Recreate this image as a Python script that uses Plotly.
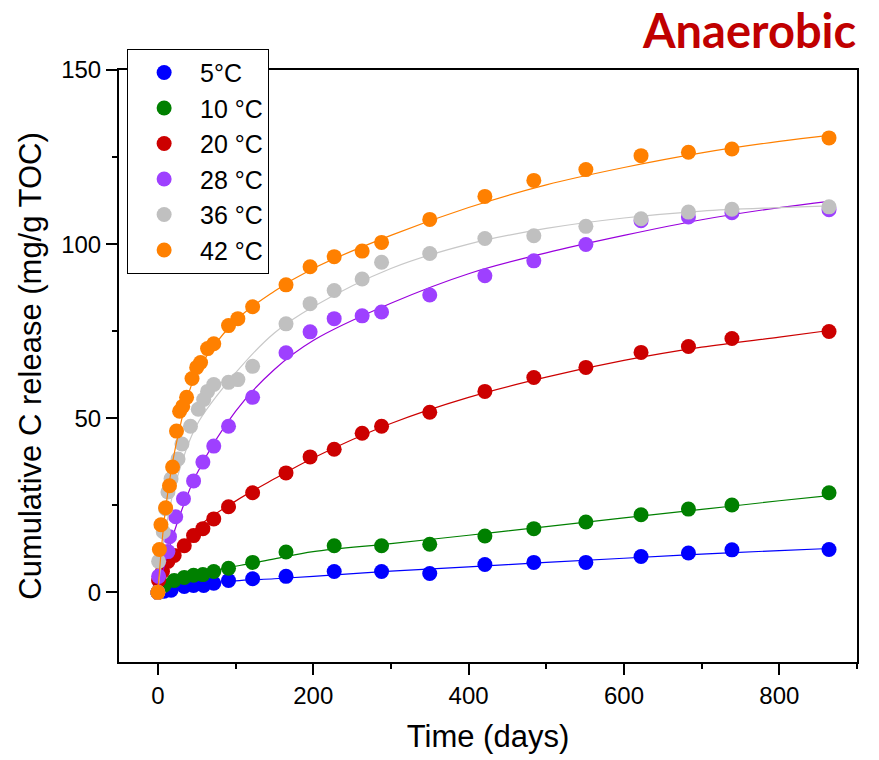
import plotly.graph_objects as go

# ---- Data ----
labels = ["5°C", "10 °C", "20 °C", "28 °C", "36 °C", "42 °C"]

days_5 = [0, 8, 17, 34, 46, 59, 72, 91, 122, 165, 227, 288, 350, 421, 484, 551, 622, 683, 739, 864]
vals_5 = [0, 0.3, 0.6, 1.7, 2.0, 2.0, 2.6, 3.4, 3.9, 4.6, 6.0, 6.0, 5.4, 8.0, 8.6, 8.6, 10.3, 11.3, 12.2, 12.3]

days_10 = [0, 8, 21, 34, 46, 58, 72, 91, 122, 165, 227, 288, 350, 421, 484, 551, 622, 683, 739, 864]
vals_10 = [0, 2.0, 3.4, 4.3, 4.9, 5.1, 6.0, 6.9, 8.6, 11.6, 13.4, 13.4, 13.8, 16.2, 18.3, 20.2, 22.3, 23.9, 25.1, 28.6]

days_20 = [0, 1, 6, 13, 21, 34, 46, 58, 72, 91, 122, 165, 196, 227, 263, 288, 350, 421, 484, 551, 622, 683, 739, 864]
vals_20 = [0, 3.4, 6.0, 8.9, 10.6, 13.4, 16.3, 18.3, 21.1, 24.6, 28.6, 34.3, 38.9, 41.1, 45.7, 47.7, 51.7, 57.7, 61.7, 64.6, 68.9, 70.6, 72.9, 74.9]

days_28 = [0, 1, 13, 15, 23, 33, 46, 58, 72, 91, 122, 165, 196, 227, 263, 288, 350, 421, 484, 551, 622, 683, 739, 864]
vals_28 = [0, 4.6, 11.7, 16.0, 21.7, 26.9, 32.0, 37.4, 42.0, 47.7, 56.0, 68.8, 74.8, 78.6, 79.4, 80.5, 85.4, 90.9, 95.2, 99.9, 106.7, 107.8, 109.0, 109.9]

days_36 = [0, 1, 7, 10, 13, 17, 26, 31, 42, 52, 59, 64, 72, 91, 103, 122, 165, 196, 227, 263, 288, 350, 421, 484, 551, 622, 683, 739, 864]
vals_36 = [0, 8.9, 17.4, 24.0, 28.8, 32.6, 38.3, 42.6, 47.7, 52.6, 55.4, 57.7, 59.7, 60.3, 61.1, 64.9, 77.1, 82.9, 86.7, 90.0, 94.8, 97.3, 101.6, 102.4, 105.1, 107.3, 109.2, 110.0, 110.7]

days_42 = [0, 2, 4, 10, 15, 19, 24, 28, 32, 37, 44, 50, 55, 64, 72, 91, 103, 122, 165, 196, 227, 263, 288, 350, 421, 484, 551, 622, 683, 739, 864]
vals_42 = [0, 12.3, 19.4, 24.3, 30.6, 36.0, 46.3, 52.0, 53.4, 56.0, 61.4, 64.6, 66.0, 70.0, 71.4, 76.6, 78.6, 82.0, 88.3, 93.5, 96.4, 98.0, 100.5, 107.1, 113.7, 118.3, 121.4, 125.4, 126.4, 127.3, 130.5]

# fitted curves (at selected days)
fit_days = [0, 10, 25, 50, 100, 150, 200, 300, 400, 500, 600, 700, 800, 864]
fit_5 = [0, 0.8, 1.5, 2.3, 3.3, 3.9, 4.6, 6.1, 7.3, 8.6, 9.8, 11.0, 12.0, 12.6]
fit_10 = [0, 1.6, 3.2, 4.9, 7.5, 9.6, 11.7, 14.0, 16.4, 18.9, 21.4, 23.8, 26.3, 27.8]
fit_20 = [0, 6.5, 11.5, 18.5, 26.2, 32.6, 38.6, 48.5, 56.0, 61.8, 66.6, 70.4, 73.3, 75.2]
fit_28 = [0, 9.0, 20.0, 34.0, 52.0, 64.0, 72.3, 83.0, 91.5, 97.5, 102.5, 107.0, 110.5, 112.3]
fit_36 = [0, 18.0, 33.0, 48.0, 63.0, 74.5, 82.0, 93.0, 100.0, 104.5, 107.5, 109.5, 110.5, 111.0]
fit_42 = [0, 24.0, 44.0, 63.0, 78.0, 86.5, 93.0, 102.5, 110.5, 117.0, 122.0, 126.2, 129.5, 131.2]

series_days = [days_5, days_10, days_20, days_28, days_36, days_42]
series_vals = [vals_5, vals_10, vals_20, vals_28, vals_36, vals_42]
series_fits = [fit_5, fit_10, fit_20, fit_28, fit_36, fit_42]

marker_colors = ["#0000FF", "#008000", "#CC0000", "#9E40FF", "#C0C0C0", "#FF8000"]
line_colors = ["#0000FF", "#008000", "#CC0000", "#9900DD", "#C8C8C8", "#FF8000"]

fig = go.Figure()
for lab, d, v, f, mc, lc in zip(labels, series_days, series_vals, series_fits, marker_colors, line_colors):
    fig.add_trace(go.Scatter(
        x=fit_days, y=f, mode="lines", line=dict(color=lc, width=1.2, shape="spline", smoothing=1.0),
        showlegend=False, hoverinfo="skip"))
    fig.add_trace(go.Scatter(
        x=d, y=v, mode="markers", name=lab,
        marker=dict(color=mc, size=15, line=dict(width=0))))

FONT = "Liberation Sans, Arial, sans-serif"

fig.update_layout(
    width=879, height=760,
    margin=dict(l=119, r=22, t=70, b=96),
    plot_bgcolor="white", paper_bgcolor="white",
    font=dict(family=FONT, color="black", size=24),
    showlegend=True,
    legend=dict(
        x=0.011, y=1.036, xanchor="left", yanchor="top",
        bgcolor="white", bordercolor="black", borderwidth=1,
        font=dict(family=FONT, size=25, color="black"),
        itemwidth=62, itemsizing="trace", tracegroupgap=0,
    ),
    xaxis=dict(
        range=[-50, 900], tickvals=[0, 200, 400, 600, 800],
        ticks="outside", ticklen=11, tickwidth=2, tickcolor="black",
        minor=dict(tickvals=[100, 300, 500, 700, 900], ticks="outside", ticklen=5, tickwidth=2, tickcolor="black"),
        showline=True, linewidth=2, linecolor="black", mirror=True,
        showgrid=False, zeroline=False,
        tickfont=dict(family=FONT, size=24),
        title=dict(text="Time (days)", font=dict(family=FONT, size=31), standoff=18),
    ),
    yaxis=dict(
        range=[-20, 150], tickvals=[0, 50, 100, 150],
        ticks="outside", ticklen=11, tickwidth=2, tickcolor="black",
        minor=dict(tickvals=[25, 75, 125], ticks="outside", ticklen=5, tickwidth=2, tickcolor="black"),
        showline=True, linewidth=2, linecolor="black", mirror=True,
        showgrid=False, zeroline=False,
        tickfont=dict(family=FONT, size=24),
        title=dict(text="Cumulative C release (mg/g TOC)", font=dict(family=FONT, size=31), standoff=10),
    ),
    annotations=[dict(
        text="<b>Anaerobic</b>", xref="paper", yref="paper", x=1.002, y=1.067,
        xanchor="right", yanchor="middle", showarrow=False,
        font=dict(family="Lato, Carlito, Calibri, sans-serif", size=47, color="#C00000"),
    )],
)

fig.write_html("out.html")
